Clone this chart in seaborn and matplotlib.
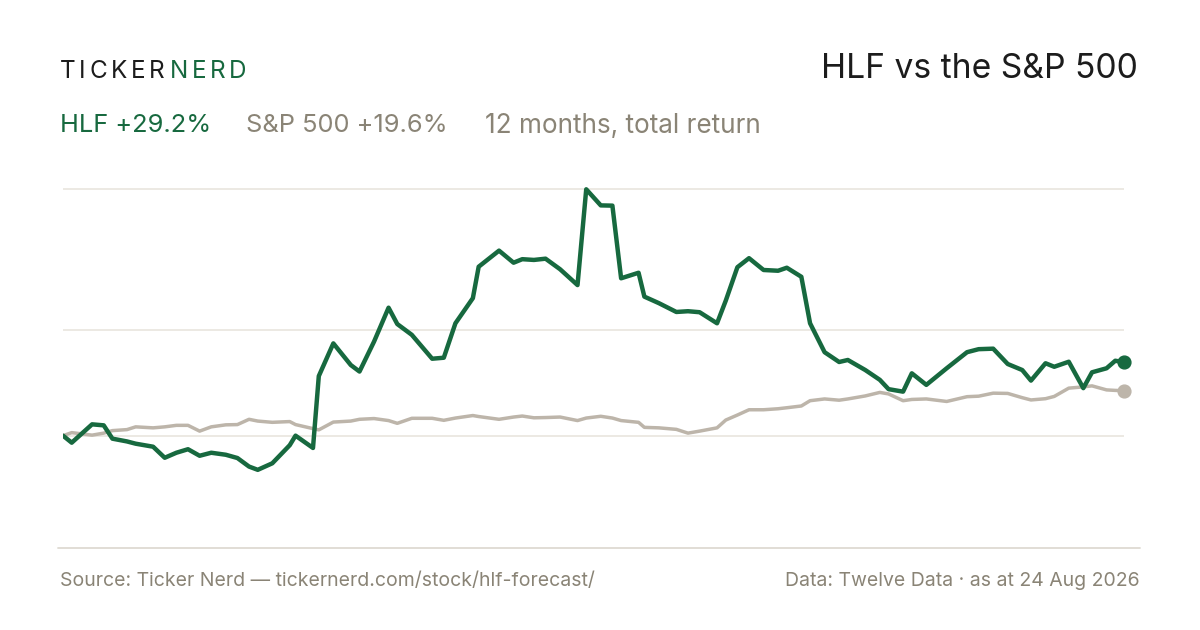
import matplotlib
matplotlib.use("Agg")
import matplotlib.pyplot as plt
import numpy as np
import pandas as pd
import seaborn as sns
from matplotlib.lines import Line2D

# 数据：距起始日的天数 + 累计收益 (%)
days = [0, 3, 10, 14, 17, 22, 25, 31, 35, 39, 43, 47, 51, 56, 60, 64, 67, 72, 78, 80,
        86, 88, 93, 99, 102, 107, 112, 115, 120, 127, 131, 135, 141, 143, 150, 155, 158,
        162, 166, 171, 177, 180, 185, 189, 192, 198, 200, 205, 211, 215, 219, 225, 228,
        232, 236, 241, 246, 249, 254, 257, 262, 267, 270, 276, 281, 284, 289, 292, 297,
        304, 311, 315, 320, 325, 330, 333, 338, 341, 346, 351, 354, 359, 362, 365]
hlf_ret = [0.0, -2.8, 4.5, 4.1, -1.2, -2.3, -3.2, -4.4, -8.8, -6.8, -5.4, -8.0, -6.8,
           -7.6, -8.9, -12.3, -13.6, -11.0, -3.8, 0.0, -4.9, 23.7, 36.7, 28.1, 25.5, 37.4,
           50.9, 44.4, 40.1, 30.6, 31.0, 44.7, 54.7, 67.2, 73.6, 68.8, 70.2, 69.9, 70.4,
           66.2, 59.9, 98.0, 91.6, 91.5, 62.6, 64.8, 55.3, 52.7, 49.2, 49.5, 49.1, 44.7,
           53.7, 67.0, 70.6, 65.9, 65.6, 66.8, 63.2, 44.7, 33.2, 29.3, 30.1, 26.1, 22.2,
           18.5, 17.5, 24.8, 20.2, 26.8, 33.2, 34.4, 34.6, 28.5, 26.1, 21.9, 28.8, 27.4,
           29.4, 18.9, 25.2, 26.8, 29.8, 29.2]
spx_ret = [0.0, 1.2, 0.2, 1.0, 2.0, 2.4, 3.5, 3.1, 3.5, 4.1, 4.1, 1.8, 3.5, 4.3, 4.4,
           6.5, 5.8, 5.3, 5.6, 4.4, 2.8, 2.3, 5.4, 5.8, 6.5, 6.8, 6.0, 4.9, 6.9, 6.9, 6.1,
           7.0, 8.0, 7.6, 6.5, 7.4, 7.8, 7.1, 7.2, 7.4, 6.0, 7.0, 7.7, 7.0, 6.0, 5.3, 3.3,
           3.1, 2.5, 1.0, 1.8, 3.1, 6.2, 8.2, 10.3, 10.3, 10.7, 11.1, 11.8, 13.9, 14.6,
           14.1, 14.6, 15.8, 17.2, 16.6, 13.9, 14.4, 14.6, 13.6, 15.5, 15.7, 16.9, 16.8,
           15.1, 14.2, 14.7, 15.6, 18.9, 19.4, 19.8, 18.2, 18.0, 17.9]

start = pd.Timestamp("2025-08-24")
df = pd.DataFrame({
    "date": start + pd.to_timedelta(days, unit="D"),
    "HLF": hlf_ret,
    "S&P 500": spx_ret,
})

GREEN = "#17693f"
SAND = "#bdb5aa"
GRID = "#ece9e3"
MUTED = "#8a8476"
INK = "#1c1c1c"

sns.set_theme(style="white")
plt.rcParams["font.family"] = ["Inter", "DejaVu Sans"]

fig = plt.figure(figsize=(12, 6.3), dpi=100)
fig.patch.set_facecolor("white")
ax = fig.add_axes([63 / 1200, 1 - 500 / 630, 1061 / 1200, 320 / 630])

# 参考线：0、区间中点、最高点
hmax = max(hlf_ret)
hmin = min(hlf_ret)
for yv in [0, (hmax + hmin) / 2, hmax]:
    ax.axhline(yv, color=GRID, lw=1.4, zorder=0)

sns.lineplot(data=df, x="date", y="S&P 500", ax=ax, color=SAND, lw=2.5, zorder=2)
sns.lineplot(data=df, x="date", y="HLF", ax=ax, color=GREEN, lw=3.2, zorder=3)
ax.scatter(df["date"].iloc[-1], spx_ret[-1], s=85, color=SAND, zorder=4, clip_on=False)
ax.scatter(df["date"].iloc[-1], hlf_ret[-1], s=85, color=GREEN, zorder=5, clip_on=False)

ax.set_xlim(df["date"].iloc[0], df["date"].iloc[-1])
ax.set_ylim(-25.6, 101.7)
ax.axis("off")

# 底部分隔线
fig.add_artist(Line2D([58 / 1200, 1140 / 1200], [1 - 548 / 630] * 2,
                      color="#dedad2", lw=1.3, transform=fig.transFigure))

# 字间距较宽的 logo，逐字放置
renderer = fig.canvas.get_renderer()


def spaced_text(x_px, y_px, s, color, size, track_px):
    for ch in s:
        t = fig.text(x_px / 1200, 1 - y_px / 630, ch, color=color, fontsize=size,
                     va="center")
        w = t.get_window_extent(renderer).width
        x_px += w + track_px
    return x_px


spaced_text(60, 71, "TICKER", INK, 17.5, 3.6)
spaced_text(170, 71, "NERD", GREEN, 17.5, 3.6)

fig.text(1138 / 1200, 1 - 69 / 630, "HLF vs the S&P 500", color=INK, fontsize=24.2,
         ha="right", va="center")

fig.text(60 / 1200, 1 - 126 / 630, "HLF +29.2%", color=GREEN, fontsize=18.3, va="center")
fig.text(246 / 1200, 1 - 126 / 630, "S&P 500 +19.6%", color=MUTED, fontsize=18.3, va="center")
fig.text(485 / 1200, 1 - 126 / 630, "12 months, total return", color=MUTED, fontsize=18.8,
         va="center")

fig.text(60 / 1200, 1 - 581 / 630, "Source: Ticker Nerd \u2014 tickernerd.com/stock/hlf-forecast/",
         color=MUTED, fontsize=14, va="center")
fig.text(1140 / 1200, 1 - 581 / 630, "Data: Twelve Data \u00b7 as at 24 Aug 2026",
         color=MUTED, fontsize=14, va="center", ha="right")

fig.savefig("out.png", dpi=100, facecolor="white")
